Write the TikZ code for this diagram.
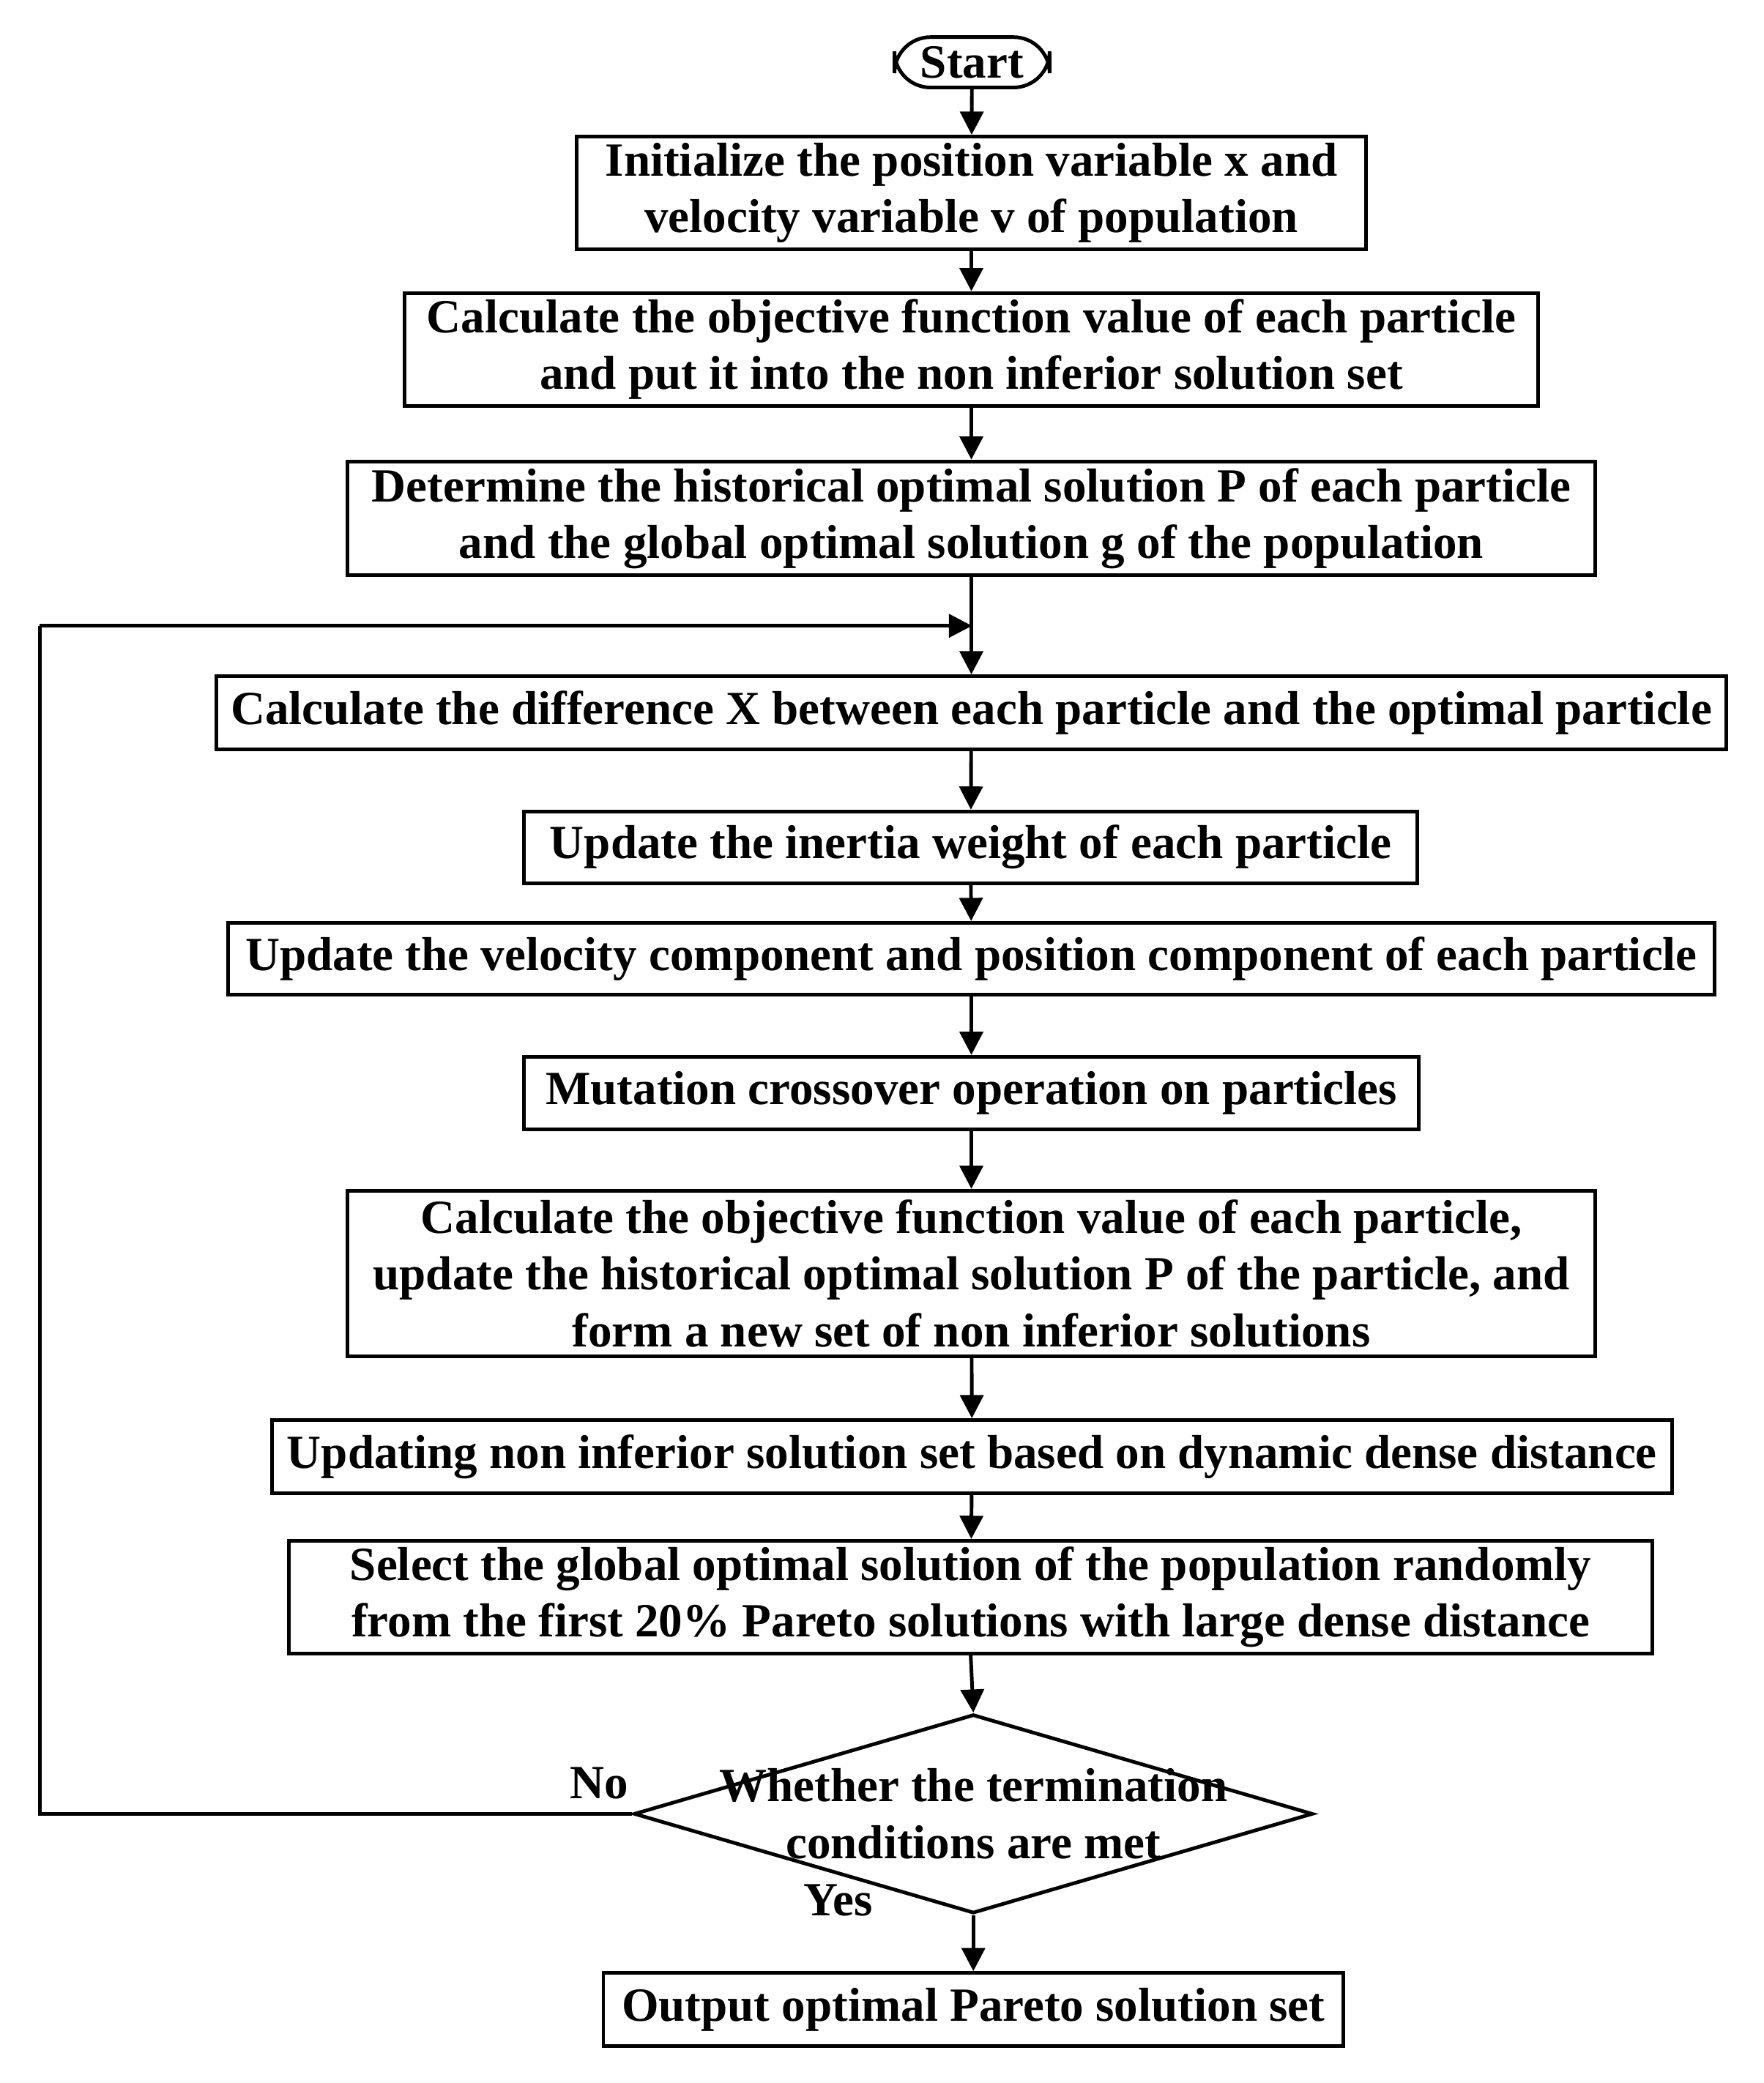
\documentclass[tikz,border=0pt]{standalone}
\usepackage{fontspec}
\setmainfont{Liberation Serif}
\usetikzlibrary{shapes.geometric,arrows.meta}
\begin{document}
\begin{tikzpicture}[x=0.0181cm,y=-0.0181cm,
 every node/.style={font=\fontsize{18.5}{22}\selectfont\bfseries},
 box/.style={draw,line width=1.4pt,align=center,inner sep=0pt},
 arr/.style={-{Triangle[length=9pt,width=9pt]},line width=1.4pt},
 ln/.style={line width=1.4pt}]
\useasboundingbox (0,0) rectangle (1330,1571);
\def\bx#1#2#3#4#5#6{\node[box,minimum width=(#3-#2)*0.0181cm,minimum height=(#5-#4)*0.0181cm] (#1) at ({(#2+#3)/2},{(#4+#5)/2}) {#6};}
\node[draw,line width=1.4pt,rounded corners=14pt,minimum width=117*0.0181cm,minimum height=38*0.0181cm,inner sep=0pt] (s) at (733,47) {Start};
\bx{b1}{435}{1030}{103}{188}{Initialize the position variable x and\\velocity variable v of population}
\bx{b2}{305}{1160}{221}{306}{Calculate the objective function value of each particle\\and put it into the non inferior solution set}
\bx{b3}{262}{1203}{348}{434}{Determine the historical optimal solution P of each particle\\and the global optimal solution g of the population}
\bx{b4}{163}{1302}{510}{565}{Calculate the difference X between each particle and the optimal particle}
\bx{b5}{395}{1069}{612}{666}{Update the inertia weight of each particle}
\bx{b6}{172}{1293}{696}{750}{Update the velocity component and position component of each particle}
\bx{b7}{395}{1070}{797}{852}{Mutation crossover operation on particles}
\bx{b8}{262}{1203}{898}{1023}{Calculate the objective function value of each particle,\\update the historical optimal solution P of the particle, and\\form a new set of non inferior solutions}
\bx{b9}{205}{1261}{1071}{1126}{Updating non inferior solution set based on dynamic dense distance}
\bx{b10}{218}{1246}{1162}{1247}{Select the global optimal solution of the population randomly\\from the first 20\% Pareto solutions with large dense distance}
\node[diamond,draw,line width=1.4pt,inner sep=0pt,aspect=3.41,minimum width=512*0.0181cm,minimum height=150*0.0181cm] (d) at (734,1368) {};
\node[align=center] (dt) at (734,1368) {Whether the termination\\conditions are met};
\bx{o}{455}{1013}{1488}{1543}{Output optimal Pareto solution set}
\node (no) at (452,1345) {No};
\node (yes) at (632,1433) {Yes};
\coordinate (j) at (733,472);
\coordinate (c1) at (30,1368);
\coordinate (c2) at (30,472);
\draw[arr] (s) -- (b1);
\draw[arr] (b1) -- (b2);
\draw[arr] (b2) -- (b3);
\draw[arr] (b3) -- (b4);
\draw[arr] (b4) -- (b5);
\draw[arr] (b5) -- (b6);
\draw[arr] (b6) -- (b7);
\draw[arr] (b7) -- (b8);
\draw[arr] (b8) -- (b9);
\draw[arr] (b9) -- (b10);
\draw[arr] (b10.south) -- (d.north);
\draw[arr] (d.south) -- (o);
\draw[ln] (d.west) -- (c1) -- (c2);
\draw[arr] (c2) -- (j);
\end{tikzpicture}
\end{document}
